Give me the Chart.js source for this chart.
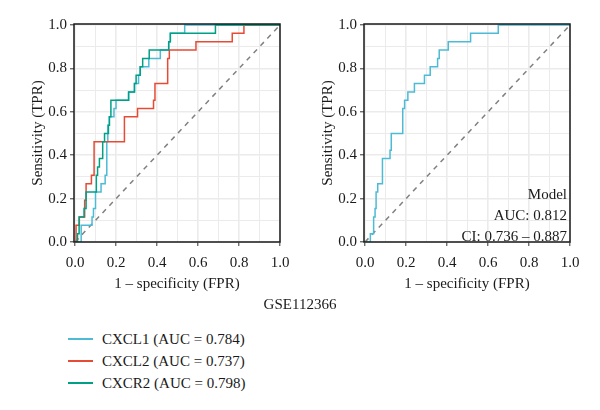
<!DOCTYPE html>
<html>
<head>
  <meta charset="UTF-8">
  <title>ROC GSE112366</title>
  <script src="https://cdn.jsdelivr.net/npm/chart.js"></script>
  <style>
    body { margin: 0; width: 600px; height: 410px; background: #fff; position: relative; overflow: hidden;
           font-family: 'Liberation Serif', 'DejaVu Serif', serif; color: #1a1a1a; }
    canvas { position: absolute; top: 0; }
    #leftChart { left: 0; }
    #rightChart { left: 290px; }
    #caption { position: absolute; top: 296px; left: 0; width: 600px; text-align: center; font-size: 15px; }
    #legend { position: absolute; top: 328px; left: 68px; font-size: 15px; }
    .row { display: flex; align-items: center; height: 22px; }
    .swatch { width: 25px; height: 1.5px; margin-right: 9px; }
  </style>
</head>
<body>
  <canvas id="leftChart" width="300" height="300"></canvas>
  <canvas id="rightChart" width="300" height="300"></canvas>
  <div id="caption"></div>
  <div id="legend"></div>

  <script>
    // axis ticks (grid every 0.1, labels every 0.2)
    const gridTicks = [0, 0.1, 0.2, 0.3, 0.4, 0.5, 0.6, 0.7, 0.8, 0.9, 1.0];
    const diagFpr = [0, 1];
    const diagTpr = [0, 1];

    // left panel: single genes
    const seriesNames = ['CXCL1 (AUC = 0.784)', 'CXCL2 (AUC = 0.737)', 'CXCR2 (AUC = 0.798)'];
    const seriesColors = ['#4DBBD5', '#E64B35', '#00A087'];

    const cxcl1Fpr = [0, 0.03, 0.03, 0.083, 0.083, 0.09, 0.09, 0.1, 0.1, 0.127, 0.127, 0.147, 0.147, 0.155, 0.155, 0.16, 0.16, 0.167, 0.167, 0.19, 0.19, 0.2, 0.2, 0.262, 0.262, 0.29, 0.29, 0.31, 0.31, 0.318, 0.318, 0.36, 0.36, 0.416, 0.416, 0.457, 0.457, 0.465, 0.465, 0.535, 0.535, 1];
    const cxcl1Tpr = [0, 0, 0.077, 0.077, 0.115, 0.115, 0.154, 0.154, 0.231, 0.231, 0.269, 0.269, 0.308, 0.308, 0.462, 0.462, 0.538, 0.538, 0.577, 0.577, 0.615, 0.615, 0.654, 0.654, 0.692, 0.692, 0.731, 0.731, 0.769, 0.769, 0.808, 0.808, 0.846, 0.846, 0.885, 0.885, 0.923, 0.923, 0.962, 0.962, 1, 1];

    const cxcl2Fpr = [0, 0.005, 0.005, 0.021, 0.021, 0.047, 0.047, 0.054, 0.054, 0.08, 0.08, 0.093, 0.093, 0.241, 0.241, 0.305, 0.305, 0.383, 0.383, 0.39, 0.39, 0.452, 0.452, 0.46, 0.46, 0.59, 0.59, 0.767, 0.767, 0.824, 0.824, 1];
    const cxcl2Tpr = [0, 0, 0.077, 0.077, 0.115, 0.115, 0.192, 0.192, 0.269, 0.269, 0.308, 0.308, 0.462, 0.462, 0.577, 0.577, 0.615, 0.615, 0.654, 0.654, 0.731, 0.731, 0.846, 0.846, 0.885, 0.885, 0.923, 0.923, 0.962, 0.962, 1, 1];

    const cxcr2Fpr = [0, 0.012, 0.012, 0.02, 0.02, 0.044, 0.044, 0.054, 0.054, 0.104, 0.104, 0.11, 0.11, 0.119, 0.119, 0.135, 0.135, 0.144, 0.144, 0.163, 0.163, 0.168, 0.168, 0.175, 0.175, 0.261, 0.261, 0.29, 0.29, 0.298, 0.298, 0.318, 0.318, 0.33, 0.33, 0.362, 0.362, 0.457, 0.457, 0.465, 0.465, 0.685, 0.685, 1];
    const cxcr2Tpr = [0, 0, 0.038, 0.038, 0.115, 0.115, 0.154, 0.154, 0.231, 0.231, 0.308, 0.308, 0.346, 0.346, 0.385, 0.385, 0.462, 0.462, 0.5, 0.5, 0.538, 0.538, 0.577, 0.577, 0.654, 0.654, 0.692, 0.692, 0.731, 0.731, 0.769, 0.769, 0.808, 0.808, 0.846, 0.846, 0.885, 0.885, 0.923, 0.923, 0.962, 0.962, 1, 1];

    // right panel: combined model
    const modelFpr = [0, 0.026, 0.026, 0.042, 0.042, 0.049, 0.049, 0.054, 0.054, 0.062, 0.062, 0.085, 0.085, 0.122, 0.122, 0.128, 0.128, 0.184, 0.184, 0.193, 0.193, 0.209, 0.209, 0.241, 0.241, 0.29, 0.29, 0.318, 0.318, 0.354, 0.354, 0.362, 0.362, 0.406, 0.406, 0.515, 0.515, 0.65, 0.65, 1];
    const modelTpr = [0, 0, 0.038, 0.038, 0.115, 0.115, 0.154, 0.154, 0.231, 0.231, 0.269, 0.269, 0.385, 0.385, 0.423, 0.423, 0.5, 0.5, 0.615, 0.615, 0.654, 0.654, 0.692, 0.692, 0.731, 0.731, 0.769, 0.769, 0.808, 0.808, 0.846, 0.846, 0.885, 0.885, 0.923, 0.923, 0.962, 0.962, 1, 1];
    const modelNote = ['Model', 'AUC: 0.812', 'CI: 0.736 – 0.887'];

    const datasetName = 'GSE112366';
    const xTitle = '1 – specificity (FPR)';
    const yTitle = 'Sensitivity (TPR)';

    Chart.defaults.font.family = "'Liberation Serif', 'DejaVu Serif', serif";
    Chart.defaults.font.size = 15;
    Chart.defaults.color = '#1a1a1a';

    const toPoints = (xs, ys) => xs.map((x, i) => ({ x: x, y: ys[i] }));
    const isMajor = v => Math.round(v * 10) % 2 === 0;

    function curve(xs, ys, color, order) {
      return { data: toPoints(xs, ys), borderColor: color, borderWidth: 1.5, pointRadius: 0, fill: false, tension: 0, order: order };
    }
    function diagonal() {
      return { data: toPoints(diagFpr, diagTpr), borderColor: '#808080', borderWidth: 1.5, borderDash: [5, 5], pointRadius: 0, fill: false, order: 10 };
    }

    function axis(min, max, title, isX) {
      return {
        type: 'linear', min: min, max: max,
        afterBuildTicks: s => { s.ticks = gridTicks.map(v => ({ value: v })); },
        afterFit: s => { if (isX) s.height = 58; else s.width = 74; },
        ticks: {
          autoSkip: false, maxRotation: 0, padding: isX ? 8 : 3, color: '#1a1a1a',
          callback: v => isMajor(v) ? v.toFixed(1) : ''
        },
        grid: {
          color: '#EBEBEB',
          lineWidth: c => isMajor(c.tick.value) ? 1.6 : 1,
          tickLength: 4,
          tickWidth: 1,
          tickColor: c => isMajor(c.tick.value) ? '#333' : 'rgba(0,0,0,0)'
        },
        border: { display: false },
        title: { display: true, text: title, color: '#1a1a1a', padding: isX ? { top: 2, bottom: 7 } : { top: 29, bottom: 0 } }
      };
    }

    // black box round the plot area
    const frame = {
      id: 'frame',
      afterDraw(chart) {
        const { ctx, chartArea: a } = chart;
        ctx.save();
        ctx.strokeStyle = '#1a1a1a';
        ctx.lineWidth = 1.5;
        ctx.strokeRect(a.left, a.top, a.right - a.left, a.bottom - a.top);
        ctx.restore();
      }
    };

    const note = {
      id: 'note',
      afterDatasetsDraw(chart) {
        const { ctx, chartArea: a } = chart;
        ctx.save();
        ctx.font = "15px 'Liberation Serif', 'DejaVu Serif', serif";
        ctx.fillStyle = '#1a1a1a';
        ctx.textAlign = 'right';
        ctx.textBaseline = 'middle';
        modelNote.forEach((t, i) => {
          ctx.fillText(t, a.right - 3, a.bottom - 5 - (modelNote.length - 1 - i) * 21);
        });
        ctx.restore();
      }
    };

    function makeChart(id, datasets, plugins) {
      return new Chart(document.getElementById(id), {
        type: 'line',
        data: { datasets: datasets },
        options: {
          responsive: false, animation: false, devicePixelRatio: 1,
          layout: { padding: { top: 24, right: 20, left: 0, bottom: 0 } },
          plugins: { legend: { display: false }, tooltip: { enabled: false } },
          scales: { x: axis(-0.005, 1, xTitle, true), y: axis(0, 1.005, yTitle, false) }
        },
        plugins: plugins
      });
    }

    makeChart('leftChart', [
      curve(cxcl1Fpr, cxcl1Tpr, seriesColors[0], 3),
      curve(cxcl2Fpr, cxcl2Tpr, seriesColors[1], 2),
      curve(cxcr2Fpr, cxcr2Tpr, seriesColors[2], 1),
      diagonal()
    ], [frame]);

    makeChart('rightChart', [
      curve(modelFpr, modelTpr, seriesColors[0], 1),
      diagonal()
    ], [frame, note]);

    document.getElementById('caption').textContent = datasetName;
    const legend = document.getElementById('legend');
    seriesNames.forEach((name, i) => {
      const row = document.createElement('div');
      row.className = 'row';
      const sw = document.createElement('span');
      sw.className = 'swatch';
      sw.style.background = seriesColors[i];
      const label = document.createElement('span');
      label.textContent = name;
      row.appendChild(sw);
      row.appendChild(label);
      legend.appendChild(row);
    });
  </script>
</body>
</html>
